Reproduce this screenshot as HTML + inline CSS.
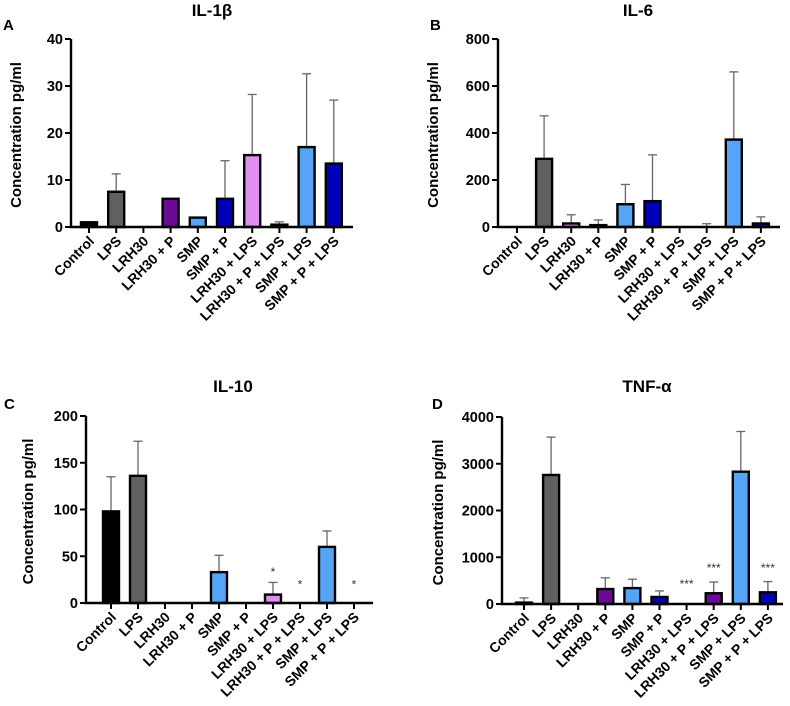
<!DOCTYPE html>
<html><head><meta charset="utf-8"><style>
body{margin:0;background:#fff;}
svg{display:block;font-family:"Liberation Sans",Arial,sans-serif;font-weight:bold;}
</style></head><body>
<svg id="fig" width="790" height="706" viewBox="0 0 790 706"></svg>
<script>
const categories = ["Control","LPS","LRH30","LRH30 + P","SMP","SMP + P","LRH30 + LPS","LRH30 + P + LPS","SMP + LPS","SMP + P + LPS"];
const colorsA = ["#000","#606060","#fff","#6b0a94","#55a4f5","#0000b8","#e08ef0","#6b0a94","#55a4f5","#0000b8"];
const colorsB = ["#000","#606060","#e08ef0","#6b0a94","#55a4f5","#0000b8","#e08ef0","#6b0a94","#55a4f5","#0000b8"];
const colorsC = ["#000","#606060","#fff","#6b0a94","#55a4f5","#0000b8","#e08ef0","#6b0a94","#55a4f5","#0000b8"];
const il1bValues = [1, 7.5, 0, 6, 2, 6, 15.3, 0.5, 17, 13.5];
const il1bErrors = [null, 11.3, null, null, null, 14.1, 28.2, 1.1, 32.6, 27];
const il1bTicks = [0, 10, 20, 30, 40];
const il6Values = [0, 290, 15, 8, 97, 110, 0, 0, 372, 15];
const il6Errors = [null, 473, 52, 30, 181, 307, null, 14, 660, 43];
const il6Ticks = [0, 200, 400, 600, 800];
const il10Values = [98, 136, 0, 0, 33, 0, 9, 0, 60, 0];
const il10Errors = [135, 173, null, null, 51, null, 22, null, 77, null];
const il10Ticks = [0, 50, 100, 150, 200];
const il10Marks = [null, null, null, null, null, null, "*", "*", null, "*"];
const il10MarkY = [null, null, null, null, null, null, 34, 21, null, 21];
const tnfValues = [30, 2760, 0, 320, 340, 150, 0, 230, 2830, 250];
const tnfErrors = [130, 3570, null, 560, 530, 280, null, 470, 3690, 480];
const tnfTicks = [0, 1000, 2000, 3000, 4000];
const tnfMarks = [null, null, null, null, null, null, "***", "***", null, "***"];
const tnfMarkY = [null, null, null, null, null, null, 450, 790, null, 790];

const NS = "http://www.w3.org/2000/svg";
const svg = document.getElementById("fig");
function mk(tag, attrs, parent, text){
  const e = document.createElementNS(NS, tag);
  for (const k in attrs) e.setAttribute(k, attrs[k]);
  if (text !== undefined) e.textContent = text;
  parent.appendChild(e);
  return e;
}
function panel(p){
  const g = mk("g", {}, svg);
  
  
  const max = p.ticks[p.ticks.length-1];
  const y = v => p.y0 - (v/max)*(p.y0 - p.yTop);
  const x = i => p.c0 + i*p.step;
  const t = mk("text", {x:p.titleX, y:p.titleY, "text-anchor":"middle", "font-size":"17"}, g, p.title);
  
  
  const l = mk("text", {x:p.letterX, y:p.letterY, "font-size":"15"}, g, p.letter);
  
  
  const yl = mk("text", {x:0, y:0, "text-anchor":"middle", "font-size":"15", transform:`translate(${p.ylabX},${(p.y0+p.yTop)/2+2}) rotate(-90)`}, g, "Concentration pg/ml");
  
  
  p.values.forEach((v,i)=>{
    const cx = x(i);
    const e = p.errors[i];
    if (e !== null) {
      const eb = mk("g", {stroke:"#666", "stroke-width":"1.3"}, g);
      
      
      mk("line", {x1:cx, x2:cx, y1:y(v), y2:y(e)}, eb);
      mk("line", {x1:cx-4.5, x2:cx+4.5, y1:y(e), y2:y(e)}, eb);
    }
    if (v > 0) {
      const h = Math.max(p.y0 - y(v), 1);
      const r = mk("rect", {x:cx-8, y:p.y0-h, width:16, height:h, fill:p.colors[i], stroke:"#000", "stroke-width":"2.4"}, g);
      
      
    }
    if (p.marks && p.marks[i]) {
      const m = mk("text", {x:cx, y:y(p.markY[i])+5, "text-anchor":"middle", "font-size":"12", "font-weight":"normal", fill:"#333"}, g, p.marks[i]);
      
      
    }
    const tk = mk("line", {x1:cx, x2:cx, y1:p.y0, y2:p.y0+6, stroke:"#000", "stroke-width":"2"}, g);
    
    
    const lb = mk("text", {x:0, y:0, "text-anchor":"end", "font-size":"14", transform:`translate(${cx+6},${p.y0+15}) rotate(-45)`}, g, categories[i]);
    
    
  });
  const ax = mk("path", {d:`M${p.ax},${p.yTop} V${p.y0} H${p.xEnd}`, fill:"none", stroke:"#000", "stroke-width":"2.4"}, g);
  
  
  p.ticks.forEach(tv=>{
    const ty = y(tv);
    const tl = mk("line", {x1:p.ax-6, x2:p.ax, y1:ty, y2:ty, stroke:"#000", "stroke-width":"2"}, g);
    
    
    const tt = mk("text", {x:p.ax-8, y:ty+5, "text-anchor":"end", "font-size":"14.5"}, g, String(tv));
    
    
  });
}
panel({id:"il-1b", title:"IL-1β", letter:"A", titleX:212, titleY:16, letterX:3, letterY:30, ylabX:21,
  ax:71, yTop:39, y0:227, xEnd:353, c0:89, step:27.2, values:il1bValues, errors:il1bErrors, ticks:il1bTicks, colors:colorsA});
panel({id:"il-6", title:"IL-6", letter:"B", titleX:638, titleY:16, letterX:430, letterY:30, ylabX:438,
  ax:498, yTop:39, y0:227, xEnd:780, c0:517, step:27.1, values:il6Values, errors:il6Errors, ticks:il6Ticks, colors:colorsB});
panel({id:"il-10", title:"IL-10", letter:"C", titleX:233, titleY:392, letterX:4, letterY:409, ylabX:33,
  ax:86, yTop:416, y0:603, xEnd:373, c0:111, step:27, values:il10Values, errors:il10Errors, ticks:il10Ticks, colors:colorsC, marks:il10Marks, markY:il10MarkY});
panel({id:"tnf-a", title:"TNF-α", letter:"D", titleX:647, titleY:392, letterX:432, letterY:409, ylabX:443,
  ax:502, yTop:417, y0:604, xEnd:783, c0:524, step:27.1, values:tnfValues, errors:tnfErrors, ticks:tnfTicks, colors:colorsC, marks:tnfMarks, markY:tnfMarkY});
</script>
</body></html>
